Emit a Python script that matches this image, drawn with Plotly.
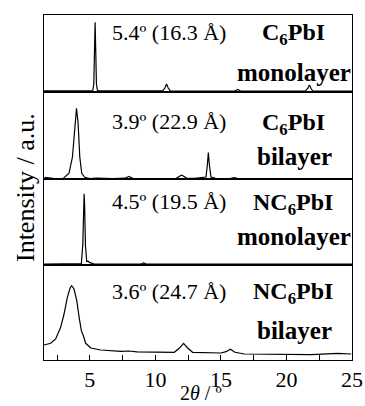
import plotly.graph_objects as go
from plotly.subplots import make_subplots

# ---- data (2theta in degrees, intensity in arbitrary units) ----
c6_mono_x = [1.5, 3.0, 5.0, 5.22, 5.30, 5.35, 5.40, 5.45, 5.50, 5.58, 6.5, 9.0, 10.55, 10.72, 10.85,
             10.98, 11.13, 13.0, 16.05, 16.28, 16.5, 19.0, 21.45, 21.62, 21.75, 21.88, 22.0, 23.5, 25.0]
c6_mono_y = [1.2, 1.2, 1.2, 1.5, 8.0, 40.0, 69.7, 40.0, 8.0, 1.5, 1.2, 1.2, 1.2, 4.0, 8.0,
             4.0, 1.2, 1.0, 1.0, 2.5, 1.0, 1.0, 1.0, 3.5, 7.0, 3.5, 1.0, 1.0, 1.0]

c6_bi_x = [1.55, 2.19, 2.95, 3.41, 3.67, 3.85, 3.98, 4.10, 4.23, 4.38, 4.61, 5.0, 5.5, 6.77, 7.67,
           7.98, 8.3, 10.0, 11.6, 11.8, 12.0, 12.2, 12.4, 13.0, 13.86, 13.97, 14.04, 14.11, 14.24,
           14.6, 15.7, 16.0, 16.3, 19.0, 22.0, 25.0]
c6_bi_y = [1.7, 0.7, 0.4, 5.7, 22.0, 56.0, 70.7, 56.0, 22.0, 5.7, 1.7, 0.5, 0.9, 0.4, 0.8,
           2.6, 0.5, 0.5, 0.7, 2.5, 3.8, 2.5, 0.7, 0.6, 2.0, 15.0, 26.5, 15.0, 2.0,
           0.6, 0.5, 1.5, 0.4, 0.4, 0.3, 0.3]

nc6_mono_x = [1.5, 3.0, 4.0, 4.35, 4.46, 4.52, 4.56, 4.60, 4.66, 4.76, 4.86, 5.0, 5.3, 7.0, 8.9, 9.1,
              9.3, 12.0, 16.0, 20.0, 25.0]
nc6_mono_y = [1.0, 1.0, 1.0, 1.5, 20.0, 60.0, 71.3, 60.0, 20.0, 3.5, 3.8, 2.3, 1.2, 1.0, 1.0, 2.0,
              1.0, 1.0, 1.0, 1.0, 1.0]

nc6_bi_x = [1.50, 2.01, 2.39, 2.77, 3.03, 3.28, 3.49, 3.61, 3.79, 4.00, 4.18, 4.35, 4.51, 4.68, 5.07,
            5.83, 7.36, 8.0, 8.6, 9.91, 11.44, 11.82, 12.15, 12.46, 12.84, 15.0, 15.39, 15.72, 16.07,
            16.79, 19.33, 21.88, 23.92, 24.94]
nc6_bi_y = [15.0, 16.7, 21.0, 32.7, 46.0, 62.7, 72.0, 74.3, 71.0, 59.3, 42.7, 29.3, 24.0, 16.7, 12.0,
            10.0, 8.7, 9.0, 8.2, 7.7, 7.7, 11.7, 16.7, 12.0, 7.7, 7.0, 8.3, 10.7, 7.7,
            6.0, 5.7, 5.3, 6.7, 6.0]

x_ticks = [5, 10, 15, 20, 25]
peak_labels = ["5.4º (16.3 Å)", "3.9º (22.9 Å)", "4.5º (19.5 Å)", "3.6º (24.7 Å)"]
sample_labels = ["C<sub>6</sub>PbI", "C<sub>6</sub>PbI", "NC<sub>6</sub>PbI", "NC<sub>6</sub>PbI"]
layer_labels = ["monolayer", "bilayer", "monolayer", "bilayer"]

series = [(c6_mono_x, c6_mono_y), (c6_bi_x, c6_bi_y), (nc6_mono_x, nc6_mono_y), (nc6_bi_x, nc6_bi_y)]
panel_h = [77, 87, 86, 95]

FONT = "Liberation Serif, Times New Roman, serif"

fig = make_subplots(rows=4, cols=1, shared_xaxes=True, vertical_spacing=0,
                    row_heights=[h / sum(panel_h) for h in panel_h])

for i, (xs, ys) in enumerate(series):
    fig.add_trace(go.Scatter(x=xs, y=ys, mode="lines", line=dict(color="black", width=1.2),
                             showlegend=False, hoverinfo="skip"), row=i + 1, col=1)
    fig.update_yaxes(range=[0, panel_h[i]], showticklabels=False, ticks="", showgrid=False,
                     zeroline=False, showline=True, mirror=True, linecolor="black", linewidth=1,
                     automargin=False, row=i + 1, col=1)
    fig.update_xaxes(range=[1.5, 25], showgrid=False, zeroline=False, showline=True, mirror=True,
                     linecolor="black", linewidth=1, automargin=False, row=i + 1, col=1)
    ly = [60, 57, 63, 69][i]
    by = [20, 23, 28, 30][i]
    xr = "x" if i == 0 else f"x{i + 1}"
    yr = "y" if i == 0 else f"y{i + 1}"
    fig.add_annotation(x=11.0, y=ly, xref=xr, yref=yr, text=peak_labels[i], showarrow=False,
                       font=dict(family=FONT, size=22, color="black"))
    fig.add_annotation(x=20.5, y=ly - 2, xref=xr, yref=yr, text="<b>" + sample_labels[i] + "</b>",
                       showarrow=False, font=dict(family=FONT, size=24, color="black"))
    fig.add_annotation(x=20.6, y=by, xref=xr, yref=yr, text="<b>" + layer_labels[i] + "</b>",
                       showarrow=False, font=dict(family=FONT, size=25, color="black"))

for r in range(1, 4):
    fig.update_xaxes(showticklabels=False, ticks="", row=r, col=1)

fig.update_xaxes(row=4, col=1, tickvals=x_ticks, ticks="inside", ticklen=5, tickwidth=1,
                 tickcolor="black", showticklabels=True, ticklabelstandoff=0,
                 tickfont=dict(family=FONT, size=22, color="black"),
                 minor=dict(dtick=2.5, tick0=0, ticks="inside", ticklen=5, tickwidth=1, tickcolor="black"))

fig.add_annotation(x=0.51, y=0, xref="paper", yref="paper", yshift=-46, text="2<i>θ</i> / º",
                   showarrow=False, xanchor="center", yanchor="bottom",
                   font=dict(family=FONT, size=20, color="black"))

fig.add_annotation(x=-0.06, y=0.5, xref="paper", yref="paper", text="Intensity / a.u.",
                   textangle=-90, showarrow=False, xanchor="center", yanchor="middle",
                   font=dict(family=FONT, size=26, color="black"))

fig.update_layout(width=365, height=406, margin=dict(l=44, r=13, t=15, b=46),
                  paper_bgcolor="white", plot_bgcolor="white")

fig.write_html("out.html", config={"displayModeBar": False},
               post_script="document.body.style.margin='0';")
